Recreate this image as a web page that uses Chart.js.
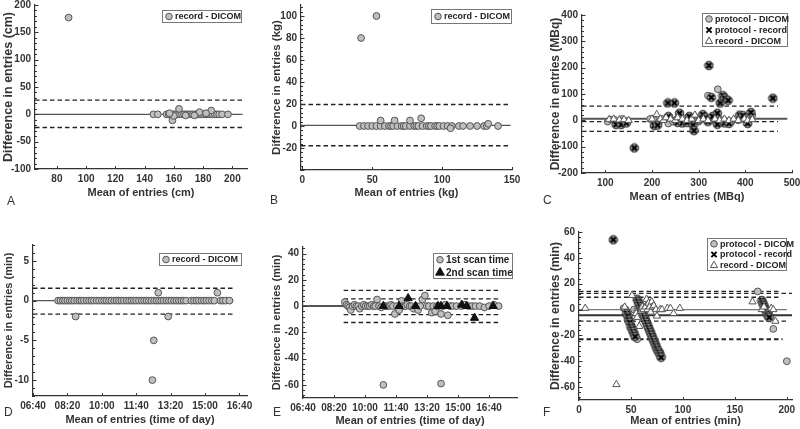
<!DOCTYPE html>
<html>
<head>
<meta charset="utf-8">
<script src="https://cdn.jsdelivr.net/npm/chart.js@4.4.0/dist/chart.umd.min.js"></script>
<style>
  body { margin: 0; background: #fff; }
  #fig { position: relative; width: 800px; height: 429px; overflow: hidden; background: #fff; }
  #fig canvas { position: absolute; }
  .tag { position: absolute; font: 12px/12px 'Liberation Sans', Arial, sans-serif; color: #333; }
</style>
</head>
<body>
<div id="fig"></div>
<script>
// ---------- data ----------
const cmTicksX = [80, 100, 120, 140, 160, 180, 200]
const cmTicksY = [-100, -50, 0, 50, 100, 150, 200]
const kgTicksX = [0, 50, 100, 150]
const kgTicksY = [-20, 0, 20, 40, 60, 80, 100]
const mbqTicksX = [100, 200, 300, 400, 500]
const mbqTicksY = [-200, -100, 0, 100, 200, 300, 400]
const timeTicksX = [400, 500, 600, 700, 800, 900, 1000]   // minutes after midnight
const dTicksY = [-10, -5, 0, 5]
const eTicksY = [-60, -40, -20, 0, 20, 40]
const minTicksX = [0, 50, 100, 150, 200]
const minTicksY = [-60, -40, -20, 0, 20, 40, 60]

// A: height, record - DICOM
const heightRecDicom = [[88,177],[146,0],[149,0],[155,0],[156.5,0],[158,0],[159.5,0],[161,0],[162.5,0],[164,0],
  [165.5,0],[167,0],[168.5,0],[170,0],[171.5,0],[173,0],[174.5,0],[176,0],[177.5,0],[179,0],[180.5,0],[182,0],
  [183.5,0],[185,0],[186.5,0],[188,0],[189.5,0],[191,0],[193,0],[197,0],[163.5,10],[159,-11],[185.5,7],
  [177.5,4],[160,-3],[174,-2],[182,2],[157,2],[168,-2]]
const heightMean = [[0, 65, 207]]
const heightLoa = [[26, 65, 207], [-24, 65, 207]]

// B: weight, record - DICOM
const weightRecDicom = [[42,80],[53,100],[41,0],[44,0],[47,0],[50,0],[53,0],[56,0],[59,0],[62,0],[63.5,0],[65,0],
  [68,0],[71,0],[72.5,0],[74,0],[77,0],[80,0],[81.5,0],[83,0],[86,0],[89,0],[90.5,0],[92,0],[95,0],[96.5,0],
  [98,0],[101,0],[104,0],[107,0],[112,0],[115,0],[120,0],[125,0],[130,0],[132,0],[140,0],[56,5],[66,5],
  [77,5],[85,7],[133,2],[106,-2]]
const weightMean = [[0.5, -1, 149]]
const weightLoa = [[19.5, -1, 149], [-18, -1, 149]]

// C: activity
const actProtDicom = [[105,-5],[112,3],[120,2],[135,5],[140,0],[196,5],[205,0],[215,-5],[222,5],[235,-12],
  [245,-5],[252,3],[260,0],[270,5],[280,-5],[295,0],[300,-5],[305,10],[320,94],[325,0],[330,10],[341,118],
  [345,5],[355,0],[370,-5],[385,0],[395,10],[405,-10],[415,20]]
const actProtRecord = [[162,-105],[123,-16],[134,-16],[145,-10],[205,-20],[212,-18],[234,66],[248,66],[259,27],
  [235,15],[255,-8],[265,-10],[275,-8],[280,15],[288,-18],[290,-39],[300,5],[309,22],[315,10],[320,-5],
  [322,208],[327,87],[330,15],[340,27],[340,-15],[346,66],[352,94],[356,84],[363,76],[355,-10],[365,-12],
  [388,20],[395,18],[405,-12],[412,30],[459,84]]
const actRecDicom = [[108,3],[118,5],[130,2],[140,3],[150,0],[200,5],[210,22],[218,5],[225,0],[230,10],[240,5],
  [250,0],[255,10],[265,5],[275,0],[285,5],[292,20],[300,0],[310,5],[320,0],[335,5],[345,0],[355,5],[365,0],
  [375,5],[385,0],[398,5],[405,0],[415,3]]
const actMean = [[6, 50, 490]]
const actLoa = [[54, 50, 470], [-5, 50, 470], [-42, 50, 470]]

// D: injection time, record - DICOM
const injRecDicom = [[473,0],[480,0],[487,0],[493,0],[500,0],[507,0],[513,0],[520,0],[528,0],[535,0],[541,0],
  [548,0],[556,0],[563,0],[570,0],[577,0],[585,0],[592,0],[600,0],[607,0],[614,0],[621,0],[628,0],[636,0],
  [643,0],[650,0],[657,0],[664,0],[672,0],[679,0],[686,0],[693,0],[700,0],[708,0],[716,0],[723,0],[730,0],
  [737,0],[744,0],[752,0],[759,0],[766,0],[773,0],[780,0],[788,0],[795,0],[802,0],[810,0],[817,0],[824,0],
  [831,0],[838,0],[845,0],[860,0],[868,0],[875,0],[882,0],[890,0],[897,0],[904,0],[912,0],[920,0],[927,0],
  [945,0],[952,0],[960,0],[971,0],[524,-2],[764,1],[751,-5],[747,-10],[793,-2],[936,1]]
const injMean = [[0, 400, 982]]
const injLoa = [[1.55, 400, 982], [-1.7, 400, 982]]

// E: scan times
const scan1 = [[535,3],[540,1],[545,0],[550,-1],[554,-3],[560,0],[566,1],[572,0],[578,0],[583,-2],[590,0],
  [596,1],[602,0],[609,0],[615,0],[621,1],[628,0],[633,0],[639,5],[645,0],[652,-1],[659,-60],[664,0],[671,0],
  [678,0],[684,1],[690,0],[696,-6],[703,0],[710,-3],[718,4],[723,0],[730,0],[736,1],[744,0],[750,0],[757,-2],
  [764,0],[771,-3],[778,0],[785,5],[793,8],[799,0],[806,0],[815,-5],[820,0],[826,-4],[832,0],[838,0],[845,-6],
  [845,-59],[852,0],[859,1],[867,-7],[874,0],[882,0],[895,0],[910,0],[922,1],[934,0],[945,0],[956,0],[970,0],
  [985,-1],[1000,0],[1015,1],[1031,0]]
const scan2 = [[659,0],[710,0],[739,6],[763,0],[835,0],[845,0],[864,0],[912,1],[928,0],[953,-9],[1013,0]]
const scanMean = [[0, 400, 1029]]
const scanLoa = [[12, 531, 1029], [5.5, 531, 1029], [-6.5, 531, 1029], [-12.5, 531, 1029]]

// F: uptake time
const upProtDicom = [[43,1],[45,0],[46,-3],[47,-6],[48,-8],[49,-10],[50,-12],[51,-14],[52,-16],[53,-18],[54,-20],
  [55,-22],[56,-23],[53,0],[56,-1],[58,4],[60,0],[62,-4],[63,0],[64,-8],[66,3],[66,-12],[68,-16],[70,2],[70,-20],
  [72,-24],[74,-28],[76,-31],[78,-33],[172,14],[180,0],[183,-3],[187,-15],[200,-40]]
const upProtRecord = [[33,54],[46,-3],[47,-5],[48,-8],[49,-10],[50,-13],[51,-15],[52,-17],[53,-19],[54,-21],
  [56,8],[57,6],[58,4],[59,2],[60,0],[61,-2],[62,-4],[63,-6],[64,-8],[65,-10],[66,-12],[67,-14],[68,-16],
  [69,-18],[70,-20],[71,-22],[72,-24],[73,-26],[74,-28],[75,-30],[76,-32],[77,-33],[78,-35],[79,-37],
  [176,7],[177,5],[178,3],[179,1],[180,-1],[181,-3],[182,-5],[183,-6]]
const upRecDicom = [[6,1],[36,-58],[44,2],[51,11],[55,-3],[56,-6],[58,-13],[60,-1],[61,2],[62,0],[64,2],[65,8],
  [66,0],[67,5],[68,2],[69,-2],[70,6],[71,2],[72,3],[74,0],[75,-5],[78,0],[80,0],[85,1],[88,1],[91,-3],[97,1],
  [167,6],[176,0],[178,2],[185,1],[187,0],[189,-9]]
const upMean = [[0, 0, 200], [-4.5, 0, 205]]
const upLoa = [[14, 0, 192], [12.5, 0, 205], [9.5, 0, 195], [-9, 0, 200], [-23, 0, 196]]

// ---------- styling ----------
const FONT = "'Liberation Sans', Arial, sans-serif"
Chart.defaults.font.family = FONT
Chart.defaults.color = '#333'

// x marker drawn over a grey disc, as in the plot
const crossImg = document.createElement('canvas')
crossImg.width = 11; crossImg.height = 11
;(function(){
  let c = crossImg.getContext('2d')
  c.beginPath(); c.arc(5.5, 5.5, 4.3, 0, Math.PI * 2)
  c.fillStyle = '#8f8f8f'; c.fill(); c.strokeStyle = '#333'; c.lineWidth = 1; c.stroke()
  c.beginPath(); c.moveTo(3, 3); c.lineTo(8, 8); c.moveTo(8, 3); c.lineTo(3, 8)
  c.strokeStyle = '#000'; c.lineWidth = 2; c.stroke()
})()

const markers = {
  circle: {pointStyle: 'circle', pointRadius: 3.4, pointBackgroundColor: '#bfbfbf', pointBorderColor: '#555', pointBorderWidth: 1},
  triangle: {pointStyle: 'triangle', pointRadius: 4.2, pointBackgroundColor: '#fff', pointBorderColor: '#555', pointBorderWidth: 1},
  blackTri: {pointStyle: 'triangle', pointRadius: 4.8, pointBackgroundColor: '#111', pointBorderColor: '#111', pointBorderWidth: 1},
  cross: {pointStyle: crossImg, pointRadius: 4}
}

const fmtTime = v => String(Math.floor(v / 60)).padStart(2, '0') + ':' + String(v % 60).padStart(2, '0')

const panels = [
  {tag: 'A', tagPos: [7, 195], area: [35, 4, 247, 169], top: 0, yTitleX: 8.5, xTitleY: 193, yFont: 12.5,
   xTitle: 'Mean of entries (cm)', yTitle: 'Difference in entries (cm)',
   xRange: [65, 210], yRange: [-100, 200], xTicks: cmTicksX, yTicks: cmTicksY,
   series: [{label: 'record - DICOM', data: heightRecDicom, mk: 'circle'}],
   means: heightMean, loas: heightLoa, legend: [162, 10, 79, 12], legendFont: 9},
  {tag: 'B', tagPos: [270, 194], area: [301, 5, 512, 170], top: 0, yTitleX: 277, xTitleY: 193, yFont: 11.5,
   xTitle: 'Mean of entries (kg)', yTitle: 'Difference in entries (kg)',
   xRange: [-1, 150], yRange: [-40, 110], xTicks: kgTicksX, yTicks: kgTicksY,
   series: [{label: 'record - DICOM', data: weightRecDicom, mk: 'circle'}],
   means: weightMean, loas: weightLoa, legend: [431, 9, 80, 14], legendFont: 9},
  {tag: 'C', tagPos: [543, 194], area: [582, 15, 792, 173], top: 0, yTitleX: 555, xTitleY: 197, yFont: 12,
   xTitle: 'Mean of entries (MBq)', yTitle: 'Difference in entries (MBq)',
   xRange: [50, 500], yRange: [-200, 400], xTicks: mbqTicksX, yTicks: mbqTicksY,
   series: [{label: 'protocol - DICOM', data: actProtDicom, mk: 'circle'},
            {label: 'protocol - record', data: actProtRecord, mk: 'cross'},
            {label: 'record - DICOM', data: actRecDicom, mk: 'triangle'}],
   means: actMean, loas: actLoa, meanW: 2, legend: [702, 13, 85, 33], legendFont: 9},
  {tag: 'D', tagPos: [4, 406], area: [33, 245, 247, 396], top: 215, yTitleX: 8.5, xTitleY: 420, yFont: 11,
   xTitle: 'Mean of entries (time of day)', yTitle: 'Difference in entries (min)', time: true,
   xRange: [400, 1022], yRange: [-12, 7], xTicks: timeTicksX, yTicks: dTicksY,
   series: [{label: 'record - DICOM', data: injRecDicom, mk: 'circle'}],
   means: injMean, loas: injLoa, legend: [159, 253, 82, 12], legendFont: 9},
  {tag: 'E', tagPos: [273, 406], area: [303, 247, 517, 398], top: 215, yTitleX: 277, xTitleY: 421, yFont: 11,
   xTitle: 'Mean of entries (time of day)', yTitle: 'Difference in entries (min)', time: true,
   xRange: [400, 1090], yRange: [-70, 45], xTicks: timeTicksX, yTicks: eTicksY,
   series: [{label: '1st scan time', data: scan1, mk: 'circle'},
            {label: '2nd scan time', data: scan2, mk: 'blackTri'}],
   means: scanMean, loas: scanLoa, meanW: 2, legend: [433, 253, 79, 25], legendFont: 10},
  {tag: 'F', tagPos: [543, 406], area: [579, 232, 792, 400], top: 215, yTitleX: 555, xTitleY: 421, yFont: 12,
   xTitle: 'Mean of entries (min)', yTitle: 'Difference in entries (min)',
   xRange: [0, 205], yRange: [-70, 60], xTicks: minTicksX, yTicks: minTicksY,
   series: [{label: 'protocol - DICOM', data: upProtDicom, mk: 'circle'},
            {label: 'protocol - record', data: upProtRecord, mk: 'cross'},
            {label: 'record - DICOM', data: upRecDicom, mk: 'triangle'}],
   means: upMean, loas: upLoa, meanColors: ['#777', '#333'], meanWidths: [1.2, 2], loaWidths: [1.3, 1.3, 1.3, 1.3, 2],
   legend: [707, 238, 79, 32], legendFont: 9}
]

// inward tick marks + minor ticks on y, like the original
const inTicks = {
  id: 'inTicks',
  afterDraw(chart, args, opts) {
    const ctx = chart.ctx, a = chart.chartArea
    const xs = chart.scales.x, ys = chart.scales.y
    ctx.save()
    ctx.strokeStyle = '#333'
    ctx.lineWidth = 1
    ctx.beginPath()
    xs.ticks.forEach(t => {
      let px = Math.round(xs.getPixelForValue(t.value)) + 0.5
      ctx.moveTo(px, a.bottom); ctx.lineTo(px, a.bottom - 3)
    })
    let minor = opts.step / 5
    for (let k = Math.ceil(ys.min / minor); k * minor <= ys.max; k++) {
      let py = Math.round(ys.getPixelForValue(k * minor)) + 0.5
      ctx.moveTo(a.left, py); ctx.lineTo(a.left + (k % 5 === 0 ? 3.5 : 2), py)
    }
    ctx.stroke()
    ctx.restore()
  }
}

function drawMarker(ctx, mk, x, y) {
  ctx.beginPath()
  if (mk === 'circle') {
    ctx.arc(x, y, 3.3, 0, Math.PI * 2)
    ctx.fillStyle = '#bfbfbf'; ctx.fill()
    ctx.strokeStyle = '#555'; ctx.lineWidth = 1; ctx.stroke()
  } else if (mk === 'cross') {
    ctx.moveTo(x - 2.6, y - 2.6); ctx.lineTo(x + 2.6, y + 2.6)
    ctx.moveTo(x + 2.6, y - 2.6); ctx.lineTo(x - 2.6, y + 2.6)
    ctx.strokeStyle = '#000'; ctx.lineWidth = 2; ctx.stroke()
  } else {
    let r = mk === 'blackTri' ? 4.8 : 4
    ctx.moveTo(x, y - r); ctx.lineTo(x + r * 0.9, y + r * 0.6); ctx.lineTo(x - r * 0.9, y + r * 0.6); ctx.closePath()
    ctx.fillStyle = mk === 'blackTri' ? '#111' : '#fff'; ctx.fill()
    ctx.strokeStyle = mk === 'blackTri' ? '#111' : '#555'; ctx.lineWidth = 1; ctx.stroke()
  }
}

// legend in a framed box inside the plot
const boxLegend = {
  id: 'boxLegend',
  afterDraw(chart, args, opts) {
    const ctx = chart.ctx
    const [x, y, w, h] = opts.box
    ctx.save()
    ctx.fillStyle = '#fff'
    ctx.fillRect(x, y, w, h)
    ctx.strokeStyle = '#777'
    ctx.lineWidth = 1
    ctx.strokeRect(x + 0.5, y + 0.5, w, h)
    let rowH = h / opts.items.length
    opts.items.forEach((it, i) => {
      let cy = y + rowH * (i + 0.5) + 0.5
      drawMarker(ctx, it.mk, x + 7, cy)
      ctx.fillStyle = '#222'
      ctx.font = 'bold ' + opts.size + 'px ' + FONT
      ctx.textBaseline = 'middle'
      ctx.fillText(it.label, x + 13, cy + 0.5)
    })
    ctx.restore()
  }
}

const fig = document.getElementById('fig')

panels.forEach(p => {
  const [L, T, R, B] = p.area
  const left = Math.round(p.yTitleX - p.yFont * 0.6)
  const right = Math.min(800, R + 8)
  const top = p.top
  const bottom = Math.round(p.xTitleY + 6.6)
  const W = right - left, H = bottom - top
  const yW = L - left, xH = bottom - B

  let canvas = document.createElement('canvas')
  canvas.width = W; canvas.height = H
  canvas.style.left = left + 'px'; canvas.style.top = top + 'px'
  canvas.style.width = W + 'px'; canvas.style.height = H + 'px'
  fig.appendChild(canvas)

  let tag = document.createElement('div')
  tag.className = 'tag'
  tag.innerText = p.tag
  tag.style.left = p.tagPos[0] + 'px'; tag.style.top = p.tagPos[1] + 'px'
  fig.appendChild(tag)

  let datasets = []
  const n = p.series.length
  p.series.forEach((s, i) => {
    datasets.push(Object.assign({
      label: s.label,
      data: s.data.map(d => ({x: d[0], y: d[1]})),
      order: n - i
    }, markers[s.mk]))
  })
  p.means.forEach((m, i) => {
    datasets.push({
      data: [{x: m[1], y: m[0]}, {x: m[2], y: m[0]}], showLine: true, pointRadius: 0,
      borderColor: p.meanColors ? p.meanColors[i] : '#555',
      borderWidth: p.meanWidths ? p.meanWidths[i] : (p.meanW || 1.3), order: 100
    })
  })
  p.loas.forEach((m, i) => {
    datasets.push({
      data: [{x: m[1], y: m[0]}, {x: m[2], y: m[0]}], showLine: true, pointRadius: 0,
      borderColor: '#222', borderWidth: p.loaWidths ? p.loaWidths[i] : 1.4,
      borderDash: [4.5, 3], order: 101
    })
  })

  const lg = p.legend
  new Chart(canvas.getContext('2d'), {
    type: 'scatter',
    data: {datasets: datasets},
    options: {
      responsive: false,
      animation: false,
      events: [],
      layout: {padding: {left: 0, top: T - top, right: right - R, bottom: 0}},
      plugins: {
        legend: {display: false},
        tooltip: {enabled: false},
        inTicks: {step: p.yTicks[1] - p.yTicks[0]},
        boxLegend: {
          box: [lg[0] - left, lg[1] - top, lg[2], lg[3]],
          size: p.legendFont,
          items: p.series.map(s => ({label: s.label, mk: s.mk}))
        }
      },
      scales: {
        x: {
          type: 'linear', min: p.xRange[0], max: p.xRange[1],
          afterBuildTicks: s => { s.ticks = p.xTicks.map(v => ({value: v})) },
          afterFit: s => { s.height = xH; s.paddingLeft = 0; s.paddingRight = 0 },
          grid: {display: false, drawTicks: false},
          border: {display: true, color: '#333', width: 1.2},
          ticks: {
            font: {weight: 'bold', size: 10}, color: '#333', padding: 4,
            maxRotation: 0, autoSkip: false,
            callback: v => p.time ? fmtTime(v) : String(v)
          },
          title: {display: true, text: p.xTitle, color: '#333', padding: 0,
                  font: {weight: 'bold', size: 11, lineHeight: 1.2}}
        },
        y: {
          type: 'linear', min: p.yRange[0], max: p.yRange[1],
          afterBuildTicks: s => { s.ticks = p.yTicks.map(v => ({value: v})) },
          afterFit: s => { s.width = yW; s.paddingTop = 0; s.paddingBottom = 0 },
          grid: {display: false, drawTicks: false},
          border: {display: true, color: '#333', width: 1.2},
          ticks: {
            font: {weight: 'bold', size: 10}, color: '#333', padding: 4, autoSkip: false,
            callback: v => String(v)
          },
          title: {display: true, text: p.yTitle, color: '#333', padding: 0,
                  font: {weight: 'bold', size: p.yFont, lineHeight: 1.2}}
        }
      }
    },
    plugins: [inTicks, boxLegend]
  })
})
</script>
</body>
</html>
